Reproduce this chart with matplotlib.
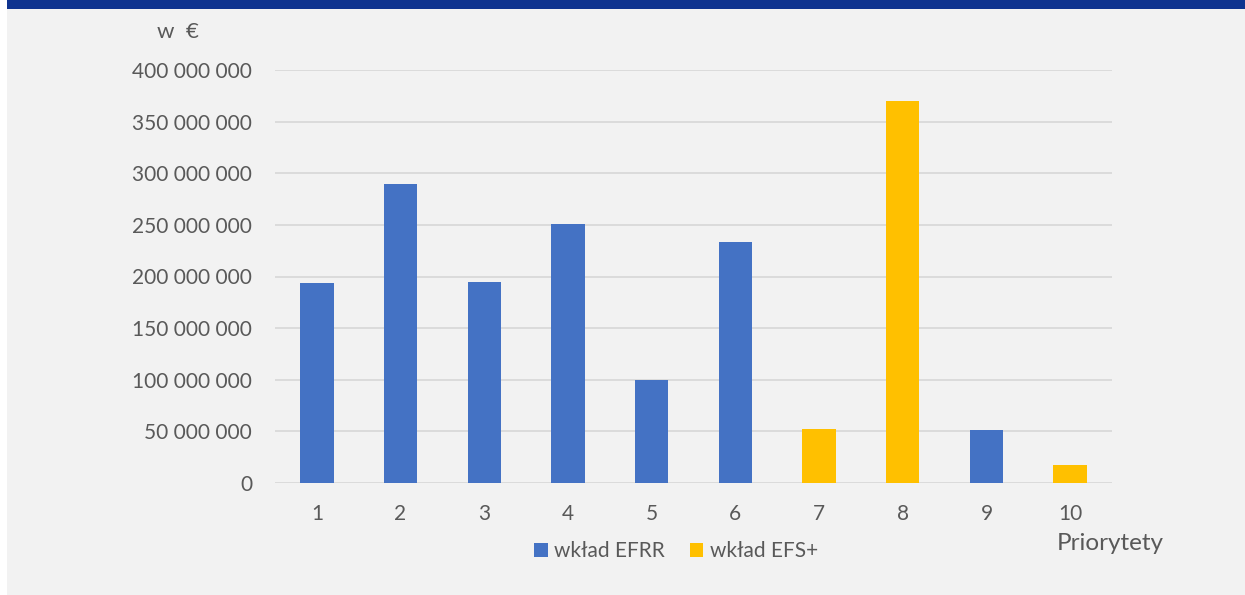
import matplotlib
matplotlib.use('Agg')
import matplotlib.pyplot as plt
from matplotlib.patches import Rectangle
import numpy as np

priorities = ['1', '2', '3', '4', '5', '6', '7', '8', '9', '10']
efrr = [194e6, 289.5e6, 195e6, 251e6, 100e6, 233e6, 0, 0, 51.3e6, 0]
efs = [0, 0, 0, 0, 0, 0, 52.6e6, 370e6, 0, 17.1e6]
yticks = [0, 50e6, 100e6, 150e6, 200e6, 250e6, 300e6, 350e6, 400e6]

BLUE = '#4472C4'
GOLD = '#FFC000'
TXT = '#595959'
BG = '#F2F2F2'

plt.rcParams['font.family'] = ['Lato', 'DejaVu Sans']

fig = plt.figure(figsize=(12.45, 5.95), dpi=100)
fig.patch.set_facecolor('white')
# grey panel and dark blue band on top
fig.patches.append(Rectangle((7/1245, 0), 1 - 7/1245, 1, transform=fig.transFigure,
                             facecolor=BG, edgecolor='none', zorder=-2))
fig.patches.append(Rectangle((7/1245, 1 - 9/595), 1 - 7/1245, 9/595, transform=fig.transFigure,
                             facecolor='#0F338F', edgecolor='none', zorder=-1))

ax = fig.add_axes([275/1245, 1 - 483/595, (1112 - 275)/1245, (483 - 70)/595])
ax.set_facecolor(BG)

x = np.arange(len(priorities))
ax.bar(x, efrr, width=0.4, color=BLUE, label='wkład EFRR', zorder=3)
ax.bar(x, efs, width=0.4, bottom=efrr, color=GOLD, label='wkład EFS+', zorder=3)

ax.set_xlim(-0.5, len(priorities) - 0.5)
ax.set_ylim(0, 400e6)
ax.set_yticks(yticks)
ax.set_yticklabels(['{:,}'.format(int(v)).replace(',', ' ') for v in yticks])
ax.set_xticks(x)
ax.set_xticklabels(priorities)
ax.yaxis.grid(True, color='#D9D9D9', linewidth=1.3, zorder=0)
ax.set_axisbelow(True)
for s in ax.spines.values():
    s.set_visible(False)
ax.tick_params(length=0, labelsize=15, labelcolor=TXT)
ax.tick_params(axis='y', pad=16.5)
ax.tick_params(axis='x', pad=15)

fig.text(157/1245, 1 - 32/595, 'w  €', fontsize=16, color=TXT, va='center')
fig.text(1057/1245, 1 - 543/595, 'Priorytety', fontsize=17.5, color=TXT, va='center')

ax.legend(loc='center', bbox_to_anchor=(676/1245, 1 - 551/595), bbox_transform=fig.transFigure,
          ncol=2, frameon=False, fontsize=15, labelcolor=TXT, handlelength=0.63,
          handleheight=0.67, handletextpad=0.29, columnspacing=1.25)

plt.savefig('out.png', dpi=100, facecolor=fig.get_facecolor())
